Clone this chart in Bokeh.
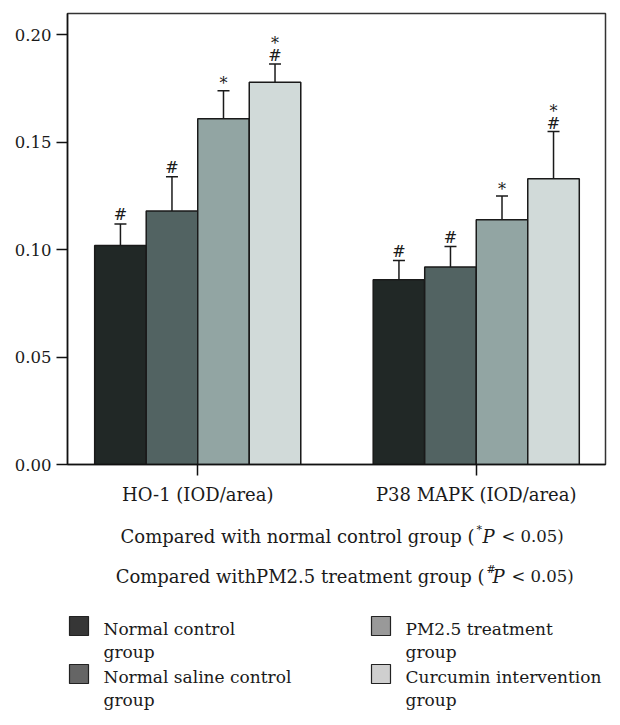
from bokeh.plotting import figure
from bokeh.models import (ColumnDataSource, Whisker, FixedTicker, Range1d, TeeHead,
                          PrintfTickFormatter)
from bokeh.layouts import column
from bokeh.embed import file_html
from bokeh.resources import INLINE
from bokeh.core.properties import value

FONT = "DejaVu Serif"
INK = "#1a1a1a"

categories = ["HO-1 (IOD/area)", "P38 MAPK (IOD/area)"]
groups = ["Normal control group", "Normal saline control group",
          "PM2.5 treatment group", "Curcumin intervention group"]
legend_line1 = ["Normal control", "Normal saline control",
                "PM2.5 treatment", "Curcumin intervention"]
legend_line2 = ["group", "group", "group", "group"]
ho1_mean = [0.102, 0.118, 0.161, 0.178]
ho1_err = [0.010, 0.016, 0.013, 0.0085]
p38_mean = [0.086, 0.092, 0.114, 0.133]
p38_err = [0.009, 0.0095, 0.011, 0.022]
ho1_mark_low = ["#", "#", "*", "#"]
ho1_mark_high = ["", "", "", "*"]
p38_mark_low = ["#", "#", "*", "#"]
p38_mark_high = ["", "", "", "*"]
bar_colors = ["#212826", "#526362", "#92a5a3", "#d1dad9"]
swatch_colors = ["#363636", "#656565", "#999999", "#cfcfcf"]
y_ticks = [0.0, 0.05, 0.10, 0.15, 0.20]
note_main = ["Compared with normal control group (", "Compared withPM2.5 treatment group ("]
note_sup = ["*", "#"]
note_ital = ["P", "P"]
note_tail = ["< 0.05)", "< 0.05)"]

# ---------------- main chart ----------------
W = 612
H1 = 510
BORDER_L, BORDER_R = 67, 7
BAR_W = 0.185
means = [ho1_mean, p38_mean]
errs = [ho1_err, p38_err]
lows = [ho1_mark_low, p38_mark_low]
highs = [ho1_mark_high, p38_mark_high]

xs, tops, ups, los, cols, mlow, mhigh, offl, offh = [], [], [], [], [], [], [], [], []
for ci in range(len(categories)):
    for gi in range(len(groups)):
        xs.append(ci + 1 + (gi - 1.5) * BAR_W)
        tops.append(means[ci][gi])
        ups.append(means[ci][gi] + errs[ci][gi])
        los.append(means[ci][gi] - errs[ci][gi])
        cols.append(bar_colors[gi])
        mlow.append(lows[ci][gi])
        mhigh.append(highs[ci][gi])
        offl.append((-8 if highs[ci][gi] else -9) if lows[ci][gi] == "#" else -7)
        offh.append(-20)

src = ColumnDataSource(dict(x=xs, top=tops, upper=ups, lower=los, color=cols,
                            mlow=mlow, mhigh=mhigh, offl=offl, offh=offh))

p = figure(width=W, height=H1, output_backend="svg", toolbar_location=None,
           x_range=Range1d(0.5324, 2.4641), y_range=Range1d(0, 0.21),
           min_border_left=BORDER_L, min_border_right=BORDER_R, min_border_top=13,
           min_border_bottom=46)
p.xgrid.visible = False
p.ygrid.visible = False
p.outline_line_color = "#333333"
p.outline_line_width = 1.5

p.vbar(x="x", top="top", width=BAR_W, source=src, fill_color="color",
       line_color=INK, line_width=1.5)

wh = Whisker(source=src, base="x", upper="upper", lower="lower",
             line_color=INK, line_width=1.5,
             upper_head=TeeHead(size=12, line_color=INK, line_width=1.5),
             lower_head=TeeHead(size=12, line_color=INK, line_width=1.5))
p.add_layout(wh)

p.text(x="x", y="upper", text="mlow", y_offset="offl", source=src,
       text_align="center", text_baseline="alphabetic",
       text_font=value(FONT), text_font_size="16px", text_color=INK)
p.text(x="x", y="upper", text="mhigh", y_offset="offh", source=src,
       text_align="center", text_baseline="alphabetic",
       text_font=value(FONT), text_font_size="16px", text_color=INK)

p.yaxis.ticker = FixedTicker(ticks=y_ticks)
p.yaxis.formatter = PrintfTickFormatter(format="%.2f")
p.xaxis.ticker = FixedTicker(ticks=[1, 2])
p.xaxis.major_label_overrides = {1: categories[0], 2: categories[1]}
for ax in (p.xaxis[0], p.yaxis[0]):
    ax.axis_line_color = "#111111"
    ax.axis_line_width = 1.5
    ax.major_tick_line_color = "#111111"
    ax.major_tick_line_width = 1.5
    ax.major_tick_in = 0
    ax.major_tick_out = 11
    ax.minor_tick_line_color = None
    ax.major_label_text_font = FONT
    ax.major_label_text_color = INK
p.yaxis.major_label_text_font_size = "16.5px"
p.xaxis.major_label_text_font_size = "18px"
p.yaxis.major_label_standoff = 5
p.xaxis.major_label_standoff = 8

# ---------------- footnotes and legend (page-pixel coordinates) ----------------
H2 = 207
q = figure(width=W, height=H2, output_backend="svg", toolbar_location=None,
           x_range=Range1d(BORDER_L + 1, W - BORDER_R + 1), y_range=Range1d(H2, 0),
           min_border_left=BORDER_L, min_border_right=BORDER_R, min_border_top=0,
           min_border_bottom=0, x_axis_type=None, y_axis_type=None)
q.xgrid.visible = False
q.ygrid.visible = False
q.outline_line_color = None

note_paren_x = [475, 485]
note_base_y = [26, 66]
for i in range(2):
    px, by = note_paren_x[i], note_base_y[i]
    q.text(x=[px], y=[by], text=[note_main[i]], text_align="right",
           text_baseline="alphabetic", text_font=value(FONT), text_font_size="18px",
           text_color=INK)
    q.text(x=[px + 2], y=[by - 7], text=[note_sup[i]], text_align="left",
           text_baseline="alphabetic", text_font=value(FONT), text_font_size="11px",
           text_color=INK)
    q.text(x=[px + 8], y=[by], text=[note_ital[i]], text_align="left",
           text_baseline="alphabetic", text_font=value(FONT), text_font_size="18px",
           text_font_style="italic", text_color=INK)
    q.text(x=[px + 27], y=[by], text=[note_tail[i]], text_align="left",
           text_baseline="alphabetic", text_font=value(FONT), text_font_size="16.5px",
           text_color=INK)

col_x = [70, 372]
row_y = [102, 150]
SQ = 19
for k in range(4):
    cx = col_x[k // 2]
    ry = row_y[k % 2]
    q.quad(left=[cx], right=[cx + SQ], top=[ry + 4], bottom=[ry + 4 + SQ],
           fill_color=swatch_colors[k], line_color="#222222", line_width=1.2)
    q.text(x=[cx + SQ + 15], y=[ry + 16], text=[legend_line1[k]], text_align="left",
           text_baseline="alphabetic", text_font=value(FONT), text_font_size="17px",
           text_color=INK)
    q.text(x=[cx + SQ + 15], y=[ry + 39], text=[legend_line2[k]], text_align="left",
           text_baseline="alphabetic", text_font=value(FONT), text_font_size="17px",
           text_color=INK)

open("out.html", "w").write(file_html(column(p, q, spacing=0), INLINE))
